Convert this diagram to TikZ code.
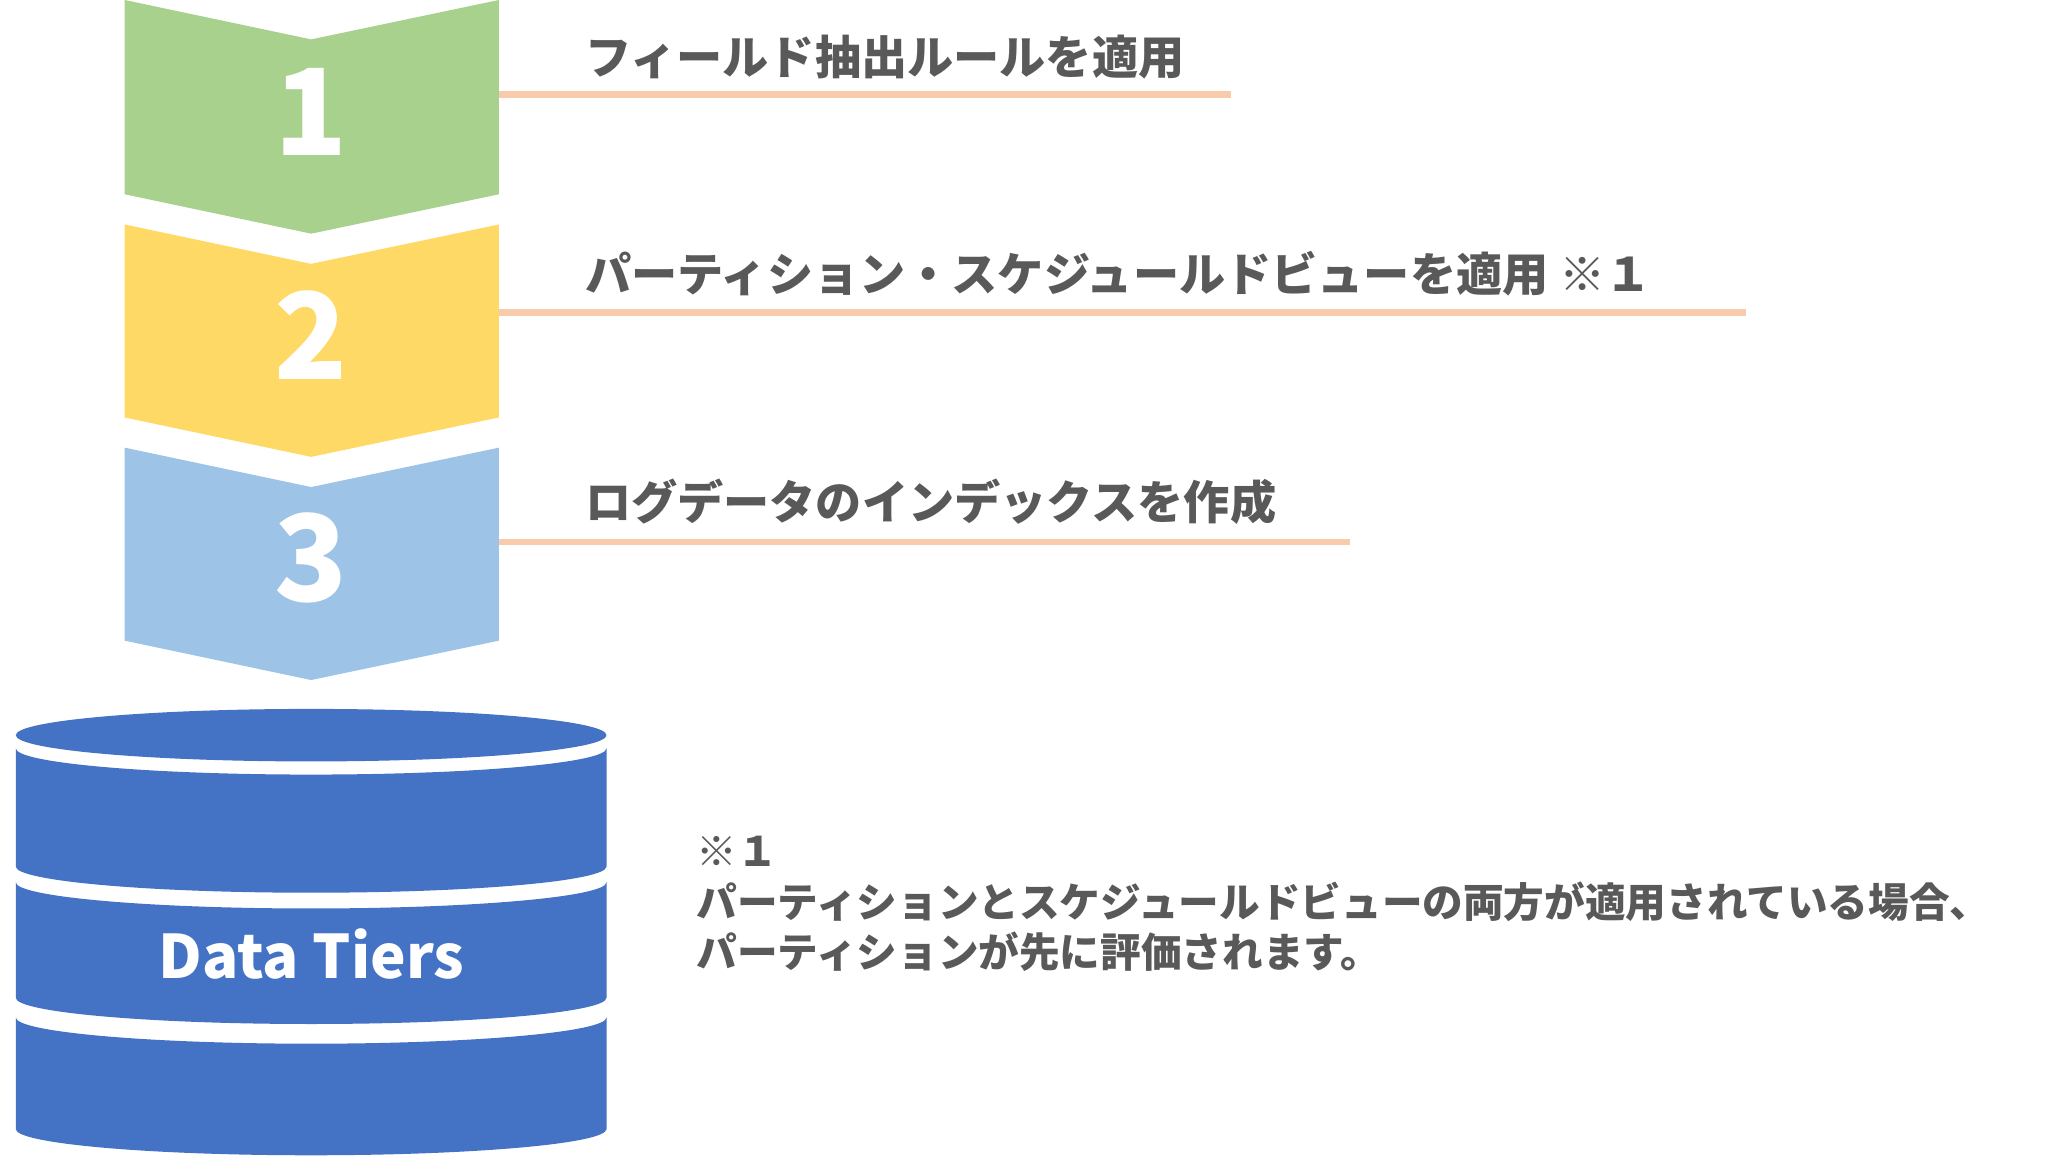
\documentclass[tikz,border=0pt]{standalone}
\usepackage{fontspec}
\setmainfont{Noto Sans}
\newfontfamily\cjk{Noto Sans CJK JP}
\usetikzlibrary{positioning}
\definecolor{stepgreen}{RGB}{169, 209, 142}
\definecolor{stepyellow}{RGB}{255, 217, 102}
\definecolor{stepblue}{RGB}{157, 195, 230}
\definecolor{tiercolor}{RGB}{68, 114, 196}
\definecolor{leadcolor}{RGB}{248, 203, 173}
\definecolor{labelgray}{RGB}{89, 89, 89}
\tikzstyle{stepnum} = [
    font=\cjk\bfseries\fontsize{26}{26}\selectfont,
    text=white
]
\tikzstyle{steplabel} = [
    font=\cjk\bfseries\fontsize{10}{10}\selectfont,
    text=labelgray,
    anchor=base west,
    inner sep=0pt
]
\tikzstyle{leader} = [
    line width=1.4pt,
    draw=leadcolor
]
\tikzstyle{notetext} = [
    font=\cjk\bfseries\fontsize{8.8}{11}\selectfont,
    text=labelgray,
    anchor=north west,
    align=left,
    inner sep=0pt
]
\begin{document}
\begin{tikzpicture}[x=0.01cm, y=-0.01cm]
\useasboundingbox (0,0) rectangle (1560,891);

% Chevron steps
\fill[stepgreen] (95,0) -- (237,30) -- (380,0) -- (380,148) -- (237,178) -- (95,148) -- cycle;
\fill[stepyellow] (95,171) -- (237,201) -- (380,171) -- (380,318) -- (237,348) -- (95,318) -- cycle;
\fill[stepblue] (95,341) -- (237,371) -- (380,341) -- (380,488) -- (237,518) -- (95,488) -- cycle;

\node[stepnum] (num1) at (237,85) {1};
\node[stepnum] (num2) at (237,255) {2};
\node[stepnum] (num3) at (237,425) {3};

% Leader lines and labels
\coordinate (lead1a) at (380,72);  \coordinate (lead1b) at (938,72);
\coordinate (lead2a) at (380,238); \coordinate (lead2b) at (1330,238);
\coordinate (lead3a) at (380,413); \coordinate (lead3b) at (1028,413);
\draw[leader] (lead1a) -- (lead1b);
\draw[leader] (lead2a) -- (lead2b);
\draw[leader] (lead3a) -- (lead3b);

\node[steplabel] (label1) at (445,57) {フィールド抽出ルールを適用};
\node[steplabel] (label2) at (445,222) {パーティション・スケジュールドビューを適用 ※１};
\node[steplabel] (label3) at (445,396) {ログデータのインデックスを作成};

% Data tiers cylinder
\fill[tiercolor] (237,560) ellipse [x radius=225, y radius=20];
\fill[tiercolor] (12,570) arc [start angle=180, end angle=0, x radius=225, y radius=20]
    -- (462,660) arc [start angle=0, end angle=180, x radius=225, y radius=20] -- cycle;
\fill[tiercolor] (12,672) arc [start angle=180, end angle=0, x radius=225, y radius=20]
    -- (462,760) arc [start angle=0, end angle=180, x radius=225, y radius=20] -- cycle;
\fill[tiercolor] (12,775) arc [start angle=180, end angle=0, x radius=225, y radius=20]
    -- (462,860) arc [start angle=0, end angle=180, x radius=225, y radius=20] -- cycle;
\node[font=\cjk\bfseries\fontsize{13}{13}\selectfont, text=white] (tiers) at (237,727) {Data Tiers};

% Footnote
\node[notetext] (note) at (530,636) {※１\\パーティションとスケジュールドビューの両方が適用されている場合、\\パーティションが先に評価されます。};

\end{tikzpicture}
\end{document}
